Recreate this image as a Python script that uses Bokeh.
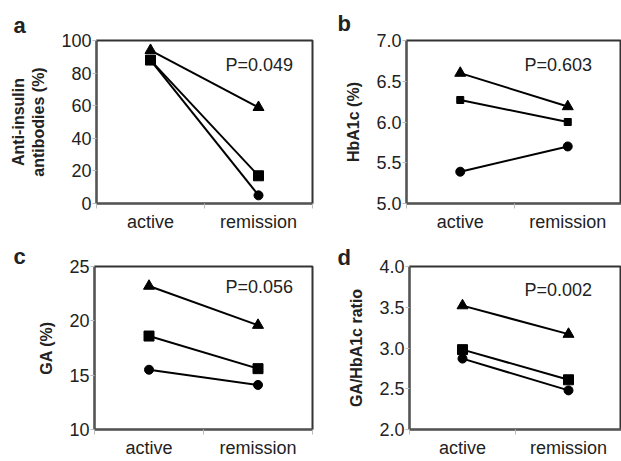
from bokeh.plotting import figure
from bokeh.models import Range1d, FixedTicker, Label, ColumnDataSource
from bokeh.layouts import column, row
from bokeh.embed import file_html
from bokeh.resources import INLINE

categories = ["active", "remission"]

a_tri = [94, 59]
a_sq = [88, 17]
a_circ = [88, 5]
a_ticks = [0, 20, 40, 60, 80, 100]
a_tick_labels = ["0", "20", "40", "60", "80", "100"]

b_tri = [6.60, 6.19]
b_sq = [6.27, 6.00]
b_circ = [5.39, 5.70]
b_ticks = [5.0, 5.5, 6.0, 6.5, 7.0]
b_tick_labels = ["5.0", "5.5", "6.0", "6.5", "7.0"]

c_tri = [23.2, 19.6]
c_sq = [18.6, 15.6]
c_circ = [15.5, 14.1]
c_ticks = [10, 15, 20, 25]
c_tick_labels = ["10", "15", "20", "25"]

d_tri = [3.52, 3.17]
d_sq = [2.98, 2.61]
d_circ = [2.87, 2.48]
d_ticks = [2.0, 2.5, 3.0, 3.5, 4.0]
d_tick_labels = ["2.0", "2.5", "3.0", "3.5", "4.0"]

FONT = "Liberation Sans"
TXT = "#222222"


def make_panel(letter, ptext, ylabel, tri, sq, circ, ticks, tick_labels,
               width, height, bl, br, bt, bb, letter_off, letter_standoff,
               p_xy, sq_size=10):
    xs = [i + 0.5 for i in range(len(categories))]
    p = figure(width=width, height=height, output_backend="svg",
               toolbar_location=None,
               x_range=Range1d(0, len(categories)),
               y_range=Range1d(ticks[0], ticks[-1]),
               min_border_left=bl, min_border_right=br,
               min_border_top=bt, min_border_bottom=bb)
    p.grid.visible = False
    p.outline_line_color = "#333333"
    p.outline_line_width = 2
    p.background_fill_color = "white"
    p.border_fill_color = "white"

    p.title.text = letter
    p.title.align = "left"
    p.title.offset = letter_off
    p.title.standoff = letter_standoff
    p.title.text_font = FONT
    p.title.text_font_style = "bold"
    p.title.text_font_size = "22px"
    p.title.text_color = TXT

    # x axis: labels at category centres, tick marks at band boundaries
    xa = p.xaxis[0]
    xa.ticker = FixedTicker(ticks=xs, minor_ticks=list(range(len(categories) + 1)))
    xa.major_label_overrides = {x: c for x, c in zip(xs, categories)}
    xa.major_tick_line_color = None
    xa.major_tick_out = 0
    xa.major_tick_in = 0
    xa.minor_tick_line_color = "#bbbbbb"
    xa.minor_tick_out = 5
    xa.minor_tick_in = 0
    xa.axis_line_color = "#555555"
    xa.axis_line_width = 2
    xa.major_label_text_font = FONT
    xa.major_label_text_font_size = "18px"
    xa.major_label_text_color = TXT
    xa.major_label_standoff = 3

    ya = p.yaxis[0]
    ya.ticker = FixedTicker(ticks=ticks, minor_ticks=[])
    ya.major_label_overrides = {t: l for t, l in zip(ticks, tick_labels)}
    ya.major_tick_line_color = "#bbbbbb"
    ya.major_tick_out = 4
    ya.major_tick_in = 0
    ya.minor_tick_line_color = None
    ya.axis_line_color = "#555555"
    ya.axis_line_width = 2
    ya.major_label_text_font = FONT
    ya.major_label_text_font_size = "18px"
    ya.major_label_text_color = TXT
    ya.major_label_standoff = 1
    ya.axis_label = ylabel
    ya.axis_label_text_font = FONT
    ya.axis_label_text_font_style = "bold"
    ya.axis_label_text_font_size = "16px"
    ya.axis_label_text_color = TXT
    ya.axis_label_standoff = 11

    src_c = ColumnDataSource(dict(x=xs, y=circ))
    src_s = ColumnDataSource(dict(x=xs, y=sq))
    src_t = ColumnDataSource(dict(x=xs, y=tri))
    for src in (src_c, src_s, src_t):
        p.line("x", "y", source=src, line_color="black", line_width=2)
    p.scatter("x", "y", source=src_c, marker="circle", size=9,
              fill_color="black", line_color="black")
    p.scatter("x", "y", source=src_s, marker="square", size=sq_size,
              fill_color="black", line_color="black")
    p.scatter("x", "y", source=src_t, marker="triangle", size=11,
              fill_color="black", line_color="black")

    p.add_layout(Label(x=p_xy[0], y=p_xy[1], x_units="screen",
                       y_units="screen", text=ptext, text_font=FONT,
                       text_font_size="18px", text_color=TXT,
                       text_baseline="alphabetic"))
    return p


pa = make_panel("a", "P=0.049", "Anti-insulin\nantibodies (%)",
                a_tri, a_sq, a_circ, a_ticks, a_tick_labels,
                314, 234, 96, 2, 40, 31, -83, 6, (129, 139))
pb = make_panel("b", "P=0.603", "HbA1c (%)",
                b_tri, b_sq, b_circ, b_ticks, b_tick_labels,
                307, 234, 92, 0, 40, 31, -69, 10, (118, 139), sq_size=7)
pc = make_panel("c", "P=0.056", "GA (%)",
                c_tri, c_sq, c_circ, c_ticks, c_tick_labels,
                314, 226, 94, 2, 32, 31, -81, -4, (131, 143))
pd = make_panel("d", "P=0.002", "GA/HbA1c ratio",
                d_tri, d_sq, d_circ, d_ticks, d_tick_labels,
                307, 226, 95, 0, 31, 31, -72, -6, (115, 140))

layout = column(row(pa, pb, spacing=0), row(pc, pd, spacing=0), spacing=0)

open("out.html", "w").write(file_html(layout, INLINE))
